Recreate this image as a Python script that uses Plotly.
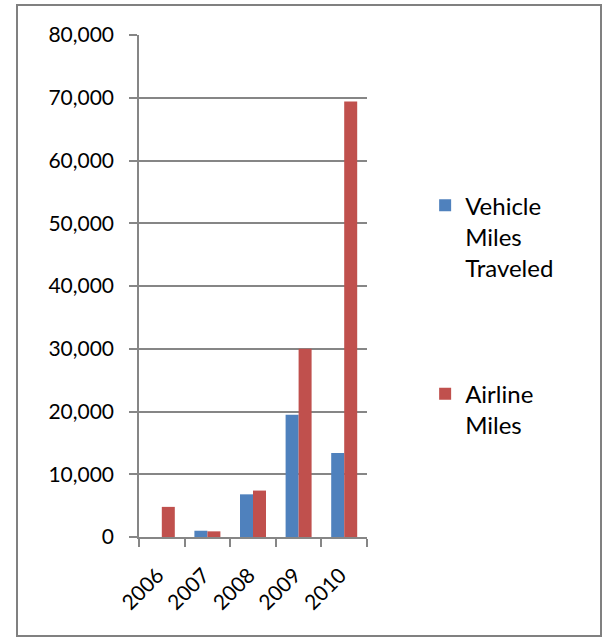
import plotly.graph_objects as go

years = ["2006", "2007", "2008", "2009", "2010"]
vehicle_miles = [0, 1000, 6800, 19500, 13400]
airline_miles = [4800, 900, 7400, 30000, 69400]
series_names = ["Vehicle<br>Miles<br>Traveled", "Airline<br>Miles"]
colors = ["#4F81BD", "#C0504D"]

FONT = "Lato"
GRID = "#868686"

fig = go.Figure()
fig.add_trace(go.Bar(x=years, y=vehicle_miles, name=series_names[0],
                     marker=dict(color=colors[0], line=dict(width=0)),
                     legendgroup="a"))
fig.add_trace(go.Bar(x=years, y=airline_miles, name=series_names[1],
                     marker=dict(color=colors[1], line=dict(width=0)),
                     legendgroup="b"))

fig.update_layout(
    width=605, height=640,
    margin=dict(l=139, r=238, t=35, b=103),
    paper_bgcolor="white", plot_bgcolor="white",
    barmode="group", bargap=0.43, bargroupgap=0,
    font=dict(family=FONT, size=22, color="#000000"),
    showlegend=True,
    legend=dict(x=1.255, y=0.705, xanchor="left", yanchor="top",
                traceorder="grouped", tracegroupgap=92, valign="top",
                font=dict(family=FONT, size=24, color="#000000"),
                itemwidth=30, bgcolor="rgba(0,0,0,0)"),
    xaxis=dict(type="category", showline=True, linecolor=GRID, linewidth=1.5,
               ticks="outside", tickson="boundaries", ticklen=8,
               tickcolor=GRID, tickwidth=1.5, tickangle=-45,
               ticklabelstandoff=16, ticklabelshift=-4,
               showgrid=False, tickfont=dict(size=21)),
    yaxis=dict(range=[0, 80000], dtick=10000, tickformat=",",
               showline=True, linecolor=GRID, linewidth=1.5,
               ticks="outside", ticklen=8, tickcolor=GRID, tickwidth=1.5,
               ticklabelstandoff=11,
               showgrid=True, gridcolor=GRID, gridwidth=1.5,
               zeroline=False, tickfont=dict(size=21)),
    shapes=[dict(type="rect", xref="paper", yref="paper",
                 x0=(17 - 139) / 228, x1=(601 - 139) / 228,
                 y0=(537 - 636) / 502, y1=(537 - 5) / 502,
                 line=dict(color="#808080", width=2), layer="below")],
)

fig.write_html("out.html")
